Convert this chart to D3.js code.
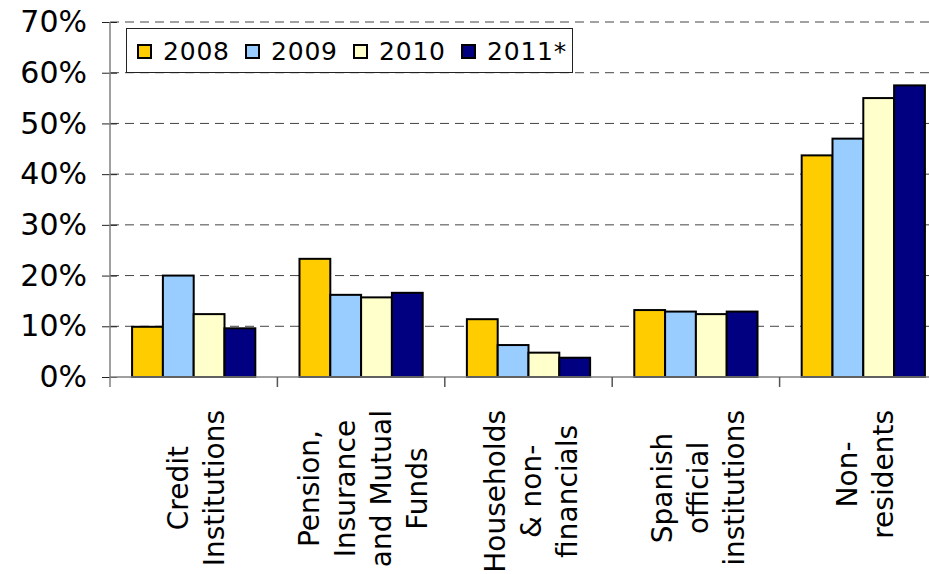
<!DOCTYPE html>
<html>
<head>
<meta charset="utf-8">
<script src="https://cdn.jsdelivr.net/npm/d3@7"></script>
<style>
  html, body { margin: 0; padding: 0; background: #fff; overflow: hidden; }
  svg { display: block; font-family: "DejaVu Sans", Verdana, sans-serif; }
</style>
</head>
<body>
<svg id="chart" width="929" height="574"></svg>
<script>
// Holders of Spanish government debt, share of total by year
const categories = [
  ["Credit", "Institutions"],
  ["Pension,", "Insurance", "and Mutual", "Funds"],
  ["Households", "& non-", "financials"],
  ["Spanish", "official", "institutions"],
  ["Non-", "residents"]
];
const years = ["2008", "2009", "2010", "2011*"];
const colors = ["#FFCC00", "#99CCFF", "#FFFFCC", "#000080"];
const values2008 = [9.9, 23.3, 11.4, 13.2, 43.7];
const values2009 = [20.0, 16.2, 6.3, 12.9, 47.0];
const values2010 = [12.4, 15.7, 4.8, 12.4, 55.0];
const values2011 = [9.6, 16.6, 3.8, 12.9, 57.5];
const yTicks = [0, 10, 20, 30, 40, 50, 60, 70];

const seriesValues = [values2008, values2009, values2010, values2011];
const svg = d3.select("#chart");

const plotLeft = 110, plotRight = 947, plotTop = 22, plotBottom = 377;

const x0 = d3.scaleBand()
  .domain(d3.range(categories.length))
  .range([plotLeft, plotRight])
  .paddingInner(0).paddingOuter(0);

const x1 = d3.scaleBand()
  .domain(d3.range(years.length))
  .range([0, x0.bandwidth()])
  .paddingInner(0).paddingOuter(0.717);

const y = d3.scaleLinear().domain([0, 70]).range([plotBottom, plotTop]);

// dashed gridlines
svg.append("g")
  .selectAll("line")
  .data(yTicks.filter(d => d > 0))
  .join("line")
  .attr("x1", plotLeft).attr("x2", plotRight)
  .attr("y1", d => y(d)).attr("y2", d => y(d))
  .attr("stroke", "#444")
  .attr("stroke-width", 1)
  .attr("stroke-dasharray", "9,6");

// y axis
const yAxis = svg.append("g")
  .attr("transform", `translate(${plotLeft},0)`)
  .call(d3.axisLeft(y).tickValues(yTicks).tickFormat(d => d + "%").tickSize(8).tickPadding(16));
yAxis.select(".domain").remove();
yAxis.selectAll(".tick line")
  .attr("x1", -8).attr("x2", 7)
  .attr("stroke", "#222");
yAxis.selectAll(".tick text")
  .attr("font-size", 30)
  .attr("font-family", "'DejaVu Sans', Verdana, sans-serif")
  .attr("fill", "#000")
  .attr("x", -23);

svg.append("line")
  .attr("x1", plotLeft).attr("x2", plotLeft)
  .attr("y1", plotTop).attr("y2", plotBottom + 10)
  .attr("stroke", "#808080").attr("stroke-width", 1.5);

// bars
const groups = svg.append("g")
  .selectAll("g")
  .data(categories.map((c, i) => i))
  .join("g")
  .attr("transform", i => `translate(${x0(i)},0)`);

groups.selectAll("rect")
  .data(i => seriesValues.map((s, k) => ({ k, v: s[i] })))
  .join("rect")
  .attr("x", d => x1(d.k))
  .attr("width", x1.bandwidth())
  .attr("y", d => y(d.v))
  .attr("height", d => y(0) - y(d.v))
  .attr("fill", d => colors[d.k])
  .attr("stroke", "#000")
  .attr("stroke-width", 2);

// x axis line and category ticks
svg.append("line")
  .attr("x1", plotLeft).attr("x2", plotRight)
  .attr("y1", plotBottom).attr("y2", plotBottom)
  .attr("stroke", "#808080").attr("stroke-width", 1.5);

svg.append("g")
  .selectAll("line")
  .data(d3.range(1, categories.length + 1))
  .join("line")
  .attr("x1", i => plotLeft + i * x0.step()).attr("x2", i => plotLeft + i * x0.step())
  .attr("y1", plotBottom).attr("y2", plotBottom + 10)
  .attr("stroke", "#555").attr("stroke-width", 1.5);

// rotated multi-line category labels, top-aligned below the axis
const labelTop = 410, lineGap = 36, labelSize = 28;
categories.forEach((lines, i) => {
  const cx = x0(i) + x0.bandwidth() / 2 + 2;
  const g = svg.append("g");
  const texts = lines.map((t, j) => g.append("text")
    .text(t)
    .attr("font-size", labelSize)
    .attr("text-anchor", "middle")
    .attr("fill", "#000"));
  const longest = d3.max(texts, t => t.node().getComputedTextLength());
  const cy = labelTop + longest / 2;
  texts.forEach((t, j) => {
    const lx = cx + (j - (lines.length - 1) / 2) * lineGap;
    t.attr("transform", `translate(${lx},${cy}) rotate(-90)`)
     .attr("dy", "0.36em");
  });
});

// legend
const legend = svg.append("g");
legend.append("rect")
  .attr("x", 126.5).attr("y", 28.5)
  .attr("width", 446).attr("height", 44)
  .attr("fill", "#fff").attr("stroke", "#222").attr("stroke-width", 1);

const items = legend.selectAll("g")
  .data(years)
  .join("g")
  .attr("transform", (d, k) => `translate(${138 + k * 108},0)`);
items.append("rect")
  .attr("x", 0).attr("y", 45)
  .attr("width", 13).attr("height", 13)
  .attr("fill", (d, k) => colors[k])
  .attr("stroke", "#000").attr("stroke-width", 2);
items.append("text")
  .attr("x", 25).attr("y", 60)
  .attr("font-size", 25)
  .attr("letter-spacing", 0.8)
  .attr("fill", "#000")
  .text(d => d);
</script>
</body>
</html>
